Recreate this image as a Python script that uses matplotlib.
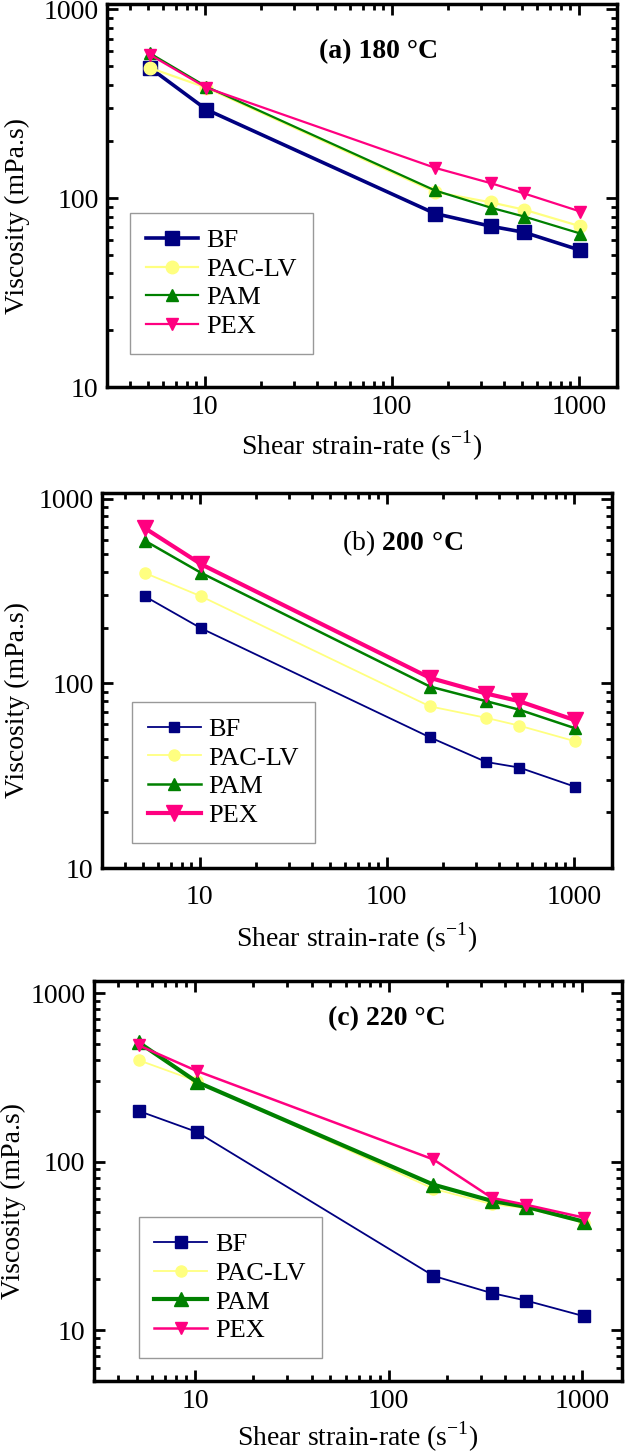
# Viscosity vs shear strain-rate at three temperatures
import matplotlib.pyplot as plt
import numpy as np

plt.rcParams['font.family'] = ['Liberation Serif', 'DejaVu Serif']
plt.rcParams['mathtext.fontset'] = 'custom'
plt.rcParams['mathtext.rm'] = 'Liberation Serif'
plt.rcParams['mathtext.bf'] = 'Liberation Serif:bold'

# Data
shear_rate = [5.11, 10.22, 170.3, 340.6, 510.9, 1021.8]
fluids = ['BF', 'PAC-LV', 'PAM', 'PEX']
colors = ['#000080', '#FFFF80', '#008000', '#FF0080']
markers = ['s', 'o', '^', 'v']

visc_180 = [[490, 295, 83, 71, 66, 53],
            [490, 385, 108, 95, 87, 71],
            [585, 390, 110, 89, 80, 65],
            [575, 385, 145, 120, 106, 85]]
visc_200 = [[295, 198, 51, 37.5, 35, 27.5],
            [395, 295, 75, 65, 59, 48.5],
            [590, 395, 96, 80, 72, 57],
            [690, 440, 107, 88, 80, 63]]
visc_220 = [[200, 150, 21, 16.6, 15, 12.1],
            [400, 300, 69, 56, 53, 43.5],
            [510, 297, 73, 58.5, 54, 44],
            [490, 345, 103, 61, 55.5, 46.5]]

# styles per panel: (line width, marker size) for each fluid
style_a = [(2.6, 10), (1.6, 9), (1.6, 9), (1.6, 9)]
style_b = [(1.3, 7), (1.3, 8), (1.8, 8), (3.0, 11)]
style_c = [(1.3, 8), (1.3, 8), (3.0, 10), (1.8, 8)]

fig = plt.figure(figsize=(6.25, 14.55), dpi=100)

panels = [
    dict(pos=[0.171, 0.734, 0.816, 0.2633], data=visc_180, style=style_a, ylim=(10, 1070),
         title='(a) 180 °C', tx=0.533, ty=0.875, leg=(0.045, 0.086),
         xpad=6, xlabpad=6, ylab=(-0.151, 0.446)),
    dict(pos=[0.163, 0.4034, 0.816, 0.2577], data=visc_200, style=style_b, ylim=(10, 1070),
         title='(b) $\\mathbf{200\\ °C}$', tx=0.59, ty=0.867, leg=(0.059, 0.067),
         xpad=12, xlabpad=8, ylab=(-0.141, 0.448)),
    dict(pos=[0.150, 0.0509, 0.845, 0.2749], data=visc_220, style=style_c, ylim=(5, 1180),
         title='(c) 220 °C', tx=0.555, ty=0.905, leg=(0.085, 0.057),
         xpad=6, xlabpad=4, ylab=(-0.129, 0.45)),
]

for p in panels:
    ax = fig.add_axes(p['pos'])
    for k in range(len(fluids)):
        lw, ms = p['style'][k]
        ax.plot(shear_rate, p['data'][k], color=colors[k], marker=markers[k],
                lw=lw, ms=ms, label=fluids[k])
    ax.set_xscale('log')
    ax.set_yscale('log')
    ax.set_xlim(3, 1600)
    ax.set_ylim(p['ylim'])
    ax.set_xticks([10, 100, 1000])
    ax.set_xticklabels(['10', '100', '1000'])
    ax.set_yticks([10, 100, 1000])
    ax.set_yticklabels(['10', '100', '1000'])
    ax.tick_params(which='both', direction='in', top=True, right=True, width=2, labelsize=20)
    ax.tick_params(which='major', length=8, pad=6)
    ax.tick_params(which='minor', length=4)
    ax.tick_params(axis='x', which='major', pad=p['xpad'])
    for s in ax.spines.values():
        s.set_linewidth(2.5)
    ax.set_xlabel('Shear strain-rate (s$^{\\mathregular{-1}}$)', fontsize=20, labelpad=p['xlabpad'])
    ax.set_ylabel('Viscosity (mPa.s)', fontsize=20)
    ax.yaxis.set_label_coords(p['ylab'][0], p['ylab'][1])
    if p['title'].startswith('(b)'):
        ax.text(p['tx'], p['ty'], p['title'], transform=ax.transAxes, fontsize=20,
                ha='center', va='center')
    else:
        ax.text(p['tx'], p['ty'], p['title'], transform=ax.transAxes, fontsize=20,
                ha='center', va='center', fontweight='bold')
    leg = ax.legend(loc='lower left', bbox_to_anchor=p['leg'], fontsize=19, frameon=True,
                    fancybox=False, edgecolor='#808080', handlelength=2.0,
                    labelspacing=0.2, borderpad=0.6, handletextpad=0.3, borderaxespad=0)
    leg.get_frame().set_linewidth(1.0)

fig.savefig('out.png', dpi=100)
